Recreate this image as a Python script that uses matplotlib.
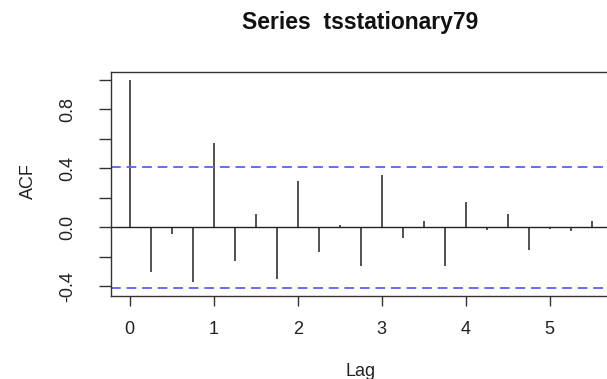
import numpy as np
import matplotlib
matplotlib.use("Agg")
import matplotlib.pyplot as plt

# Sample autocorrelations of the quarterly series (lag in years)
lags = [0.0, 0.25, 0.5, 0.75, 1.0, 1.25, 1.5, 1.75, 2.0, 2.25, 2.5, 2.75,
        3.0, 3.25, 3.5, 3.75, 4.0, 4.25, 4.5, 4.75, 5.0, 5.25, 5.5]
acf_vals = [1.000, -0.299, -0.043, -0.372, 0.576, -0.227, 0.088, -0.351,
            0.317, -0.168, 0.016, -0.263, 0.354, -0.073, 0.045, -0.263,
            0.170, -0.020, 0.088, -0.152, -0.011, -0.027, 0.045]
n_obs = 23
conf = 1.96 / np.sqrt(n_obs)

y_ticks = [-0.4, -0.2, 0.0, 0.2, 0.4, 0.6, 0.8, 1.0]
y_tick_labels = ["-0.4", "", "0.0", "", "0.4", "", "0.8", ""]
x_ticks = [0, 1, 2, 3, 4, 5]
x_tick_labels = ["0", "1", "2", "3", "4", "5"]

plt.rcParams["font.family"] = ["Liberation Sans", "DejaVu Sans"]

W, H = 607, 379
fig = plt.figure(figsize=(W / 100, H / 100), dpi=100)
left, right, top, bottom = 111.3, 610.0, 71.7, 296.0
ax = fig.add_axes([left / W, 1 - bottom / H, (right - left) / W, (bottom - top) / H])

ax.vlines(lags, 0, acf_vals, color="#333333", lw=1.2)
ax.axhline(0, color="#222222", lw=1.0)
for c in (conf, -conf):
    ax.axhline(c, color="#6a6af2", lw=1.4, ls=(0, (5, 3)))

span = max(lags) - min(lags)
ax.set_xlim(min(lags) - 0.04 * span, max(lags) + 0.04 * span)
lo, hi = min(min(acf_vals), -conf), max(max(acf_vals), conf)
ax.set_ylim(lo - 0.04 * (hi - lo), hi + 0.04 * (hi - lo))

ax.set_xticks(x_ticks)
ax.set_xticklabels(x_tick_labels)
ax.set_yticks(y_ticks)
ax.set_yticklabels(y_tick_labels, rotation=90, va="center")

for s in ax.spines.values():
    s.set_color("#333333")
    s.set_linewidth(1.0)

ax.tick_params(axis="x", length=7.2, width=1.0, color="#333333", pad=10.5,
               labelsize=13, labelcolor="#222222")
ax.tick_params(axis="y", length=9.0, width=1.0, color="#333333", pad=16.5,
               labelsize=13, labelcolor="#222222")

fig.text(360 / W, 1 - 23 / H, "Series  tsstationary79", ha="center", va="center",
         fontsize=16.5, fontweight="bold", color="#111111")
fig.text(360.7 / W, 1 - 371 / H, "Lag", ha="center", va="center",
         fontsize=13, color="#222222")
fig.text(28 / W, 1 - 181 / H, "ACF", ha="center", va="center", rotation=90,
         fontsize=13, color="#222222")

fig.savefig("out.png", dpi=100)
